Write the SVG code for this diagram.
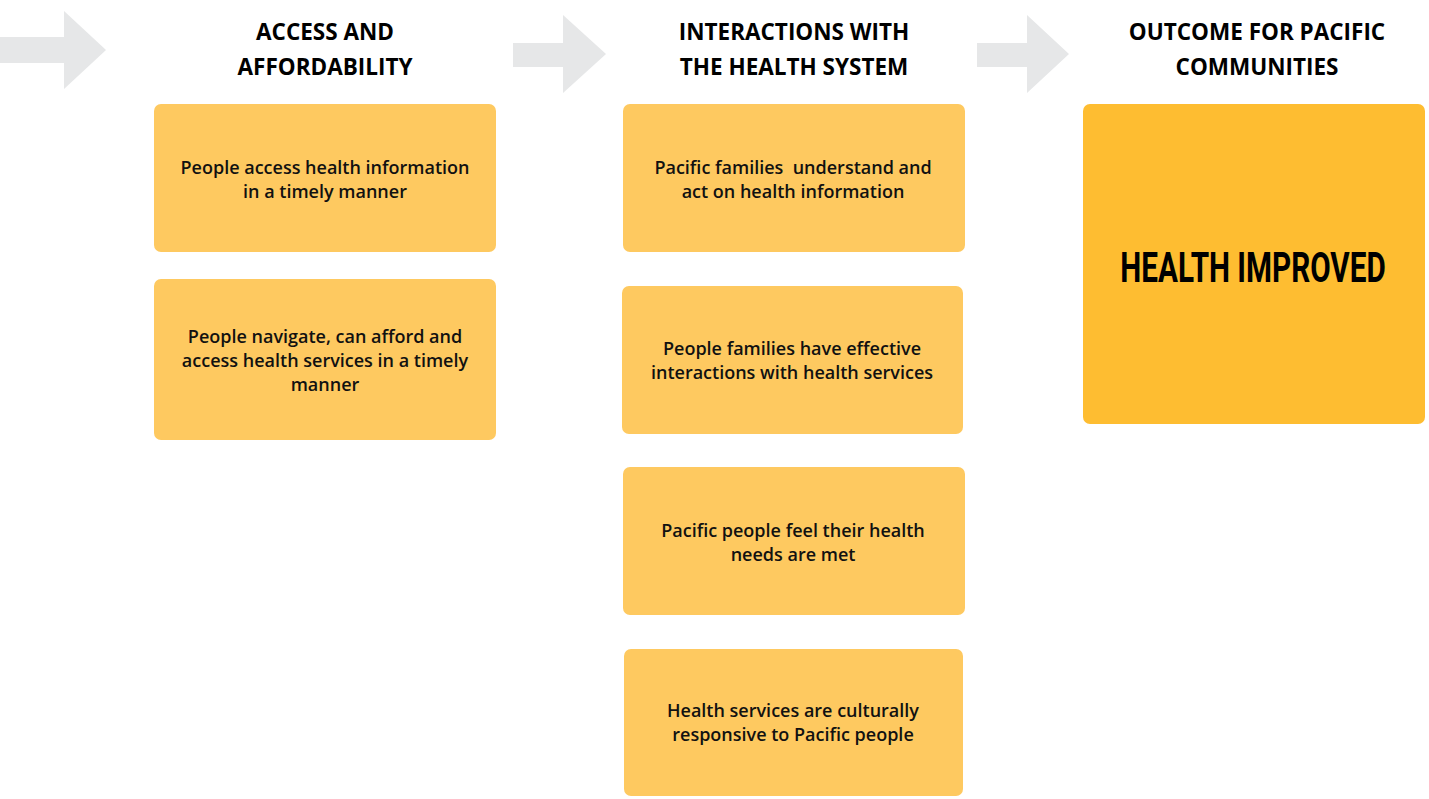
<svg xmlns="http://www.w3.org/2000/svg" width="1429" height="799" viewBox="0 0 1429 799">
<style>
.arrow{fill:#E6E7E8}
.box{fill:#FEC960}
.big{fill:#FEBD31}
.hd{font-family:"Open Sans","Noto Sans",sans-serif;font-weight:700;font-size:22.5px;fill:#000;text-anchor:middle}
.tx{font-family:"Open Sans","Noto Sans",sans-serif;font-weight:600;font-size:18px;fill:#111;text-anchor:middle}
.bg{font-family:"Roboto","Liberation Sans",sans-serif;font-weight:700;font-size:42px;fill:#000;text-anchor:middle}
</style>
<rect width="1429" height="799" fill="#fff"/>
<g id="connectors">
<polygon class="arrow" points="0,37 64,37 64,11 106,50 64,89 64,63 0,63"/>
<polygon class="arrow" points="513,43 563,43 563,15 606,54 563,93 563,67 513,67"/>
<polygon class="arrow" points="977,43 1027,43 1027,15 1069,54 1027,93 1027,67 977,67"/>
</g>
<g id="heading-access">
<text class="hd" x="325" y="40">ACCESS AND</text>
<text class="hd" x="325" y="75">AFFORDABILITY</text>
</g>
<g id="heading-interactions">
<text class="hd" x="794" y="40">INTERACTIONS WITH</text>
<text class="hd" x="794" y="75">THE HEALTH SYSTEM</text>
</g>
<g id="heading-outcome">
<text class="hd" x="1257" y="40">OUTCOME FOR PACIFIC</text>
<text class="hd" x="1257" y="75">COMMUNITIES</text>
</g>
<g id="node-a1">
<rect class="box" x="154" y="104" width="342" height="148" rx="7"/>
<text class="tx" x="325" y="174">People access health information</text>
<text class="tx" x="325" y="198">in a timely manner</text>
</g>
<g id="node-a2">
<rect class="box" x="154" y="279" width="342" height="161" rx="7"/>
<text class="tx" x="325" y="343">People navigate, can afford and</text>
<text class="tx" x="325" y="367">access health services in a timely</text>
<text class="tx" x="325" y="391">manner</text>
</g>
<g id="node-i1">
<rect class="box" x="623" y="104" width="342" height="148" rx="7"/>
<text class="tx" x="793" y="174" xml:space="preserve">Pacific families  understand and</text>
<text class="tx" x="793" y="198">act on health information</text>
</g>
<g id="node-i2">
<rect class="box" x="622" y="286" width="341" height="148" rx="7"/>
<text class="tx" x="792" y="355">People families have effective</text>
<text class="tx" x="792" y="379">interactions with health services</text>
</g>
<g id="node-i3">
<rect class="box" x="623" y="467" width="342" height="148" rx="7"/>
<text class="tx" x="793" y="537">Pacific people feel their health</text>
<text class="tx" x="793" y="561">needs are met</text>
</g>
<g id="node-i4">
<rect class="box" x="624" y="649" width="339" height="147" rx="7"/>
<text class="tx" x="793" y="717">Health services are culturally</text>
<text class="tx" x="793" y="741">responsive to Pacific people</text>
</g>
<g id="node-outcome">
<rect class="big" x="1083" y="104" width="342" height="320" rx="7"/>
<text class="bg" transform="translate(1253,282) scale(0.707,1)" x="0" y="0">HEALTH IMPROVED</text>
</g>
</svg>
